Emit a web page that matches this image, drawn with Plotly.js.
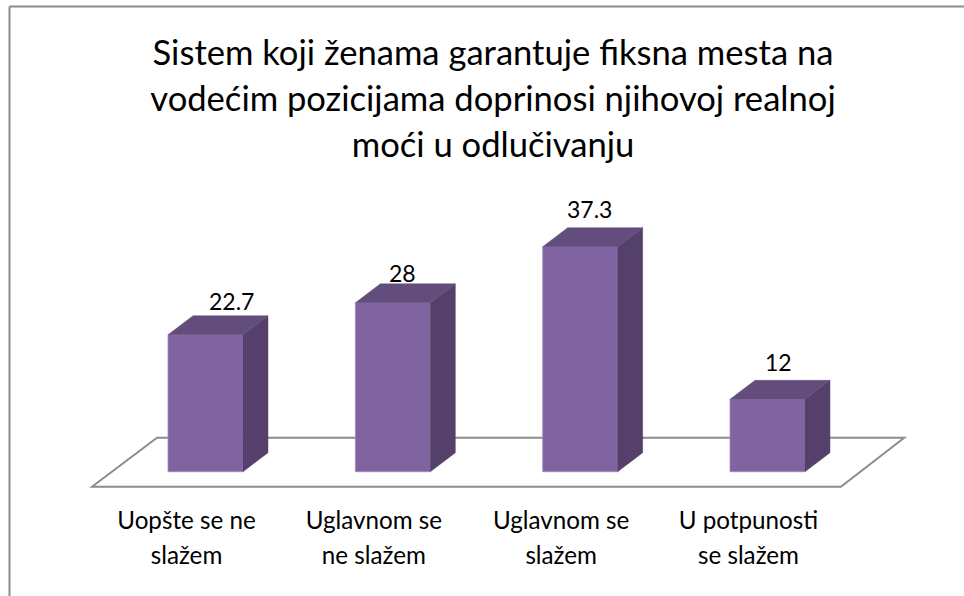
<!DOCTYPE html>
<html>
<head>
<meta charset="utf-8">
<script src="https://cdn.plot.ly/plotly-3.0.1.min.js"></script>
<style>html,body{margin:0;padding:0;background:#fff}</style>
</head>
<body>
<div id="chart" style="width:964px;height:596px"></div>
<script>
var titleLines = ['Sistem koji ženama garantuje fiksna mesta na', 'vodećim pozicijama doprinosi njihovoj realnoj', 'moći u odlučivanju'];
var categoryLines = [['Uopšte se ne', 'slažem'], ['Uglavnom se', 'ne slažem'], ['Uglavnom se', 'slažem'], ['U potpunosti', 'se slažem']];
var positions = [0, 1, 2, 3];
var values = [22.7, 28, 37.3, 12];

var barWidth = 0.4, depthX = 0.1335, depthY = 3.15;
var labelShiftX = [26, 10, 9, 11];
var labelShiftY = [18, 14, 22, 21];
var F = 'Lato, sans-serif';
var titleSize = 34.6, catSize = 24.2, valSize = 23;

function em(line, size) { return '<span style="font-size:' + size + 'px">' + line + '</span>'; }

var topX = [], topY = [], sideX = [], sideY = [];
positions.forEach(function (p, i) {
  var l = p - barWidth / 2, r = p + barWidth / 2, v = values[i];
  topX.push(l, r, r + depthX, l + depthX, l, null);
  topY.push(v, v, v + depthY, v + depthY, v, null);
  sideX.push(r, r + depthX, r + depthX, r, r, null);
  sideY.push(0, depthY, v + depthY, v, 0, null);
});

var traces = [
  { type: 'bar', x: positions, y: values, width: barWidth, hoverinfo: 'skip',
    marker: { color: '#8064a2', line: { color: '#a28cbd', width: 0.8 } } },
  { type: 'scatter', mode: 'lines', x: sideX, y: sideY, fill: 'toself', fillcolor: '#54406a',
    line: { color: '#54406a', width: 0.5 }, hoverinfo: 'skip' },
  { type: 'scatter', mode: 'lines', x: topX, y: topY, fill: 'toself', fillcolor: '#634d7d',
    line: { color: '#634d7d', width: 0.5 }, hoverinfo: 'skip' }
];

var floor = { front: -2.49, back: 5.64, frontL: -0.606, backL: -0.259, backR: 3.73, frontR: 3.392 };

var layout = {
  width: 964, height: 596, showlegend: false,
  paper_bgcolor: '#ffffff', plot_bgcolor: 'rgba(0,0,0,0)',
  margin: { l: 0, r: 0, t: 0, b: 0, pad: 0 },
  title: {
    text: titleLines.map(function (t) { return em(t, titleSize); }).join('<br>'),
    font: { family: F, size: 35.4, color: '#000000' },
    x: 0.5114, xanchor: 'center', y: 0.891, yanchor: 'top', pad: { t: 0, b: 0 }
  },
  xaxis: {
    range: [-1.097, 4.049], showgrid: false, zeroline: false, showline: false, ticks: '',
    tickmode: 'array', tickvals: positions,
    ticktext: categoryLines.map(function (c) { return c.map(function (t) { return em(t, catSize); }).join('<br>'); }),
    tickfont: { family: F, size: 27, color: '#000000' },
    ticklabelshift: -19, ticklabelstandoff: 0,
    anchor: 'free', position: 0.16, fixedrange: true
  },
  yaxis: { range: [-20.6, 78.2], showgrid: false, zeroline: false, showline: false, showticklabels: false, ticks: '', fixedrange: true },
  bargap: 0,
  shapes: [
    { type: 'path', xref: 'x', yref: 'y', layer: 'below',
      path: 'M' + floor.frontL + ',' + floor.front + ' L' + floor.backL + ',' + floor.back + ' L' + floor.backR + ',' + floor.back + ' L' + floor.frontR + ',' + floor.front + ' Z',
      line: { color: '#8c8c8c', width: 2 }, fillcolor: 'rgba(0,0,0,0)' },
    { type: 'line', xref: 'paper', yref: 'paper', x0: 0.00985, x1: 0.00985, y0: 0, y1: 0.989, line: { color: '#8c8c8c', width: 2 } },
    { type: 'line', xref: 'paper', yref: 'paper', x0: 0.00985, x1: 1, y0: 0.989, y1: 0.989, line: { color: '#8c8c8c', width: 2 } }
  ],
  annotations: positions.map(function (p, i) {
    return { x: p, y: values[i], xref: 'x', yref: 'y', text: String(values[i]), showarrow: false,
      xanchor: 'center', yanchor: 'bottom', xshift: labelShiftX[i], yshift: labelShiftY[i],
      font: { family: F, size: valSize, color: '#000000' } };
  })
};

Plotly.newPlot('chart', traces, layout, { displayModeBar: false, staticPlot: true });
</script>
</body>
</html>
